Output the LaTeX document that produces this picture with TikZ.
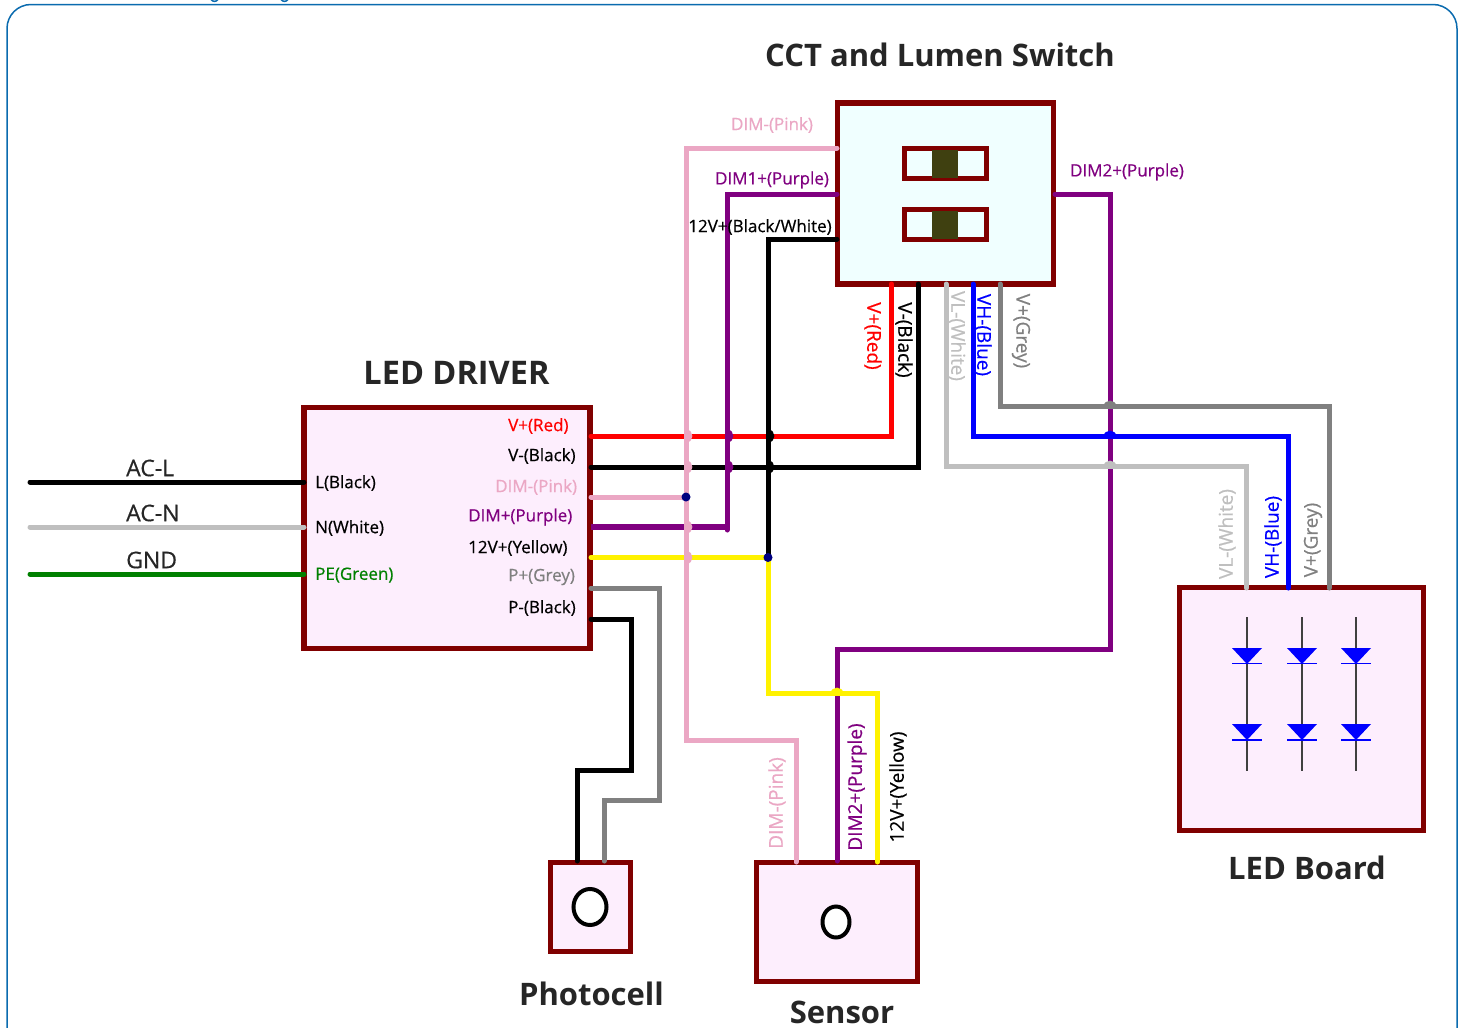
\documentclass[tikz,border=0pt]{standalone}
\usepackage{fontspec}
\setmainfont{Open Sans}
\newfontfamily\labfont[FakeBold=0.5]{Open Sans}
\usetikzlibrary{calc,shapes.geometric}
\definecolor{boxred}{HTML}{800000}
\definecolor{lilac}{HTML}{FDEEFD}
\definecolor{icy}{HTML}{F0FFFF}
\definecolor{pinkw}{HTML}{EBA7C4}
\definecolor{purp}{HTML}{800080}
\definecolor{greyw}{HTML}{808080}
\definecolor{whitew}{HTML}{BFBFBF}
\definecolor{navy2}{HTML}{000080}
\definecolor{green2}{HTML}{008000}
\definecolor{frame}{HTML}{0A6BAF}
\definecolor{slider}{HTML}{3F4010}
\newcommand\hopr[3]{\draw[line width=3.5pt,#3,line cap=round] (#1,#2-6) .. controls (#1+6,#2-3) and (#1+6,#2+3) .. (#1,#2+6);}
\newcommand\hopu[3]{\draw[line width=3.5pt,#3,line cap=round] (#1-6,#2+1) .. controls (#1-3,#2-5) and (#1+3,#2-5) .. (#1+6,#2+1);}
\tikzset{
 x=1pt,y=-1pt,
 boxn/.style={draw=boxred,line width=5.5pt,inner sep=0pt,outer sep=0pt},
 wire/.style={line width=5pt,line join=miter,line cap=round},
 lab/.style={inner sep=0pt,font=\fontsize{17}{20}\labfont},
 rlab/.style={inner sep=0pt,font=\fontsize{19}{22}\labfont},
 aclab/.style={inner sep=0pt,font=\fontsize{23}{26}\labfont,text=black!85,anchor=west},
 ttl/.style={inner sep=0pt,font=\fontsize{31}{36}\selectfont\bfseries,text=black!85},
 dot/.style={circle,fill=navy2,inner sep=0pt,minimum size=9pt},
 ledtri/.style={fill=blue,draw=none},
 ledbar/.style={draw=blue,line width=1.4pt},
 ledline/.style={draw=black!75,line width=1.3pt},
 holelens/.style={draw=black,line width=4pt,fill=white,ellipse},
}
\begin{document}
\begin{tikzpicture}
\useasboundingbox (0,0) rectangle (1465,1028);
\clip (0,0) rectangle (1465,1028);
\fill[white] (0,0) rectangle (1465,1028);
\draw[frame,line width=1.5pt,rounded corners=24pt] (7,1045) -- (7,4.5) -- (1457,4.5) -- (1457,1045);
\draw[frame,line width=1.5pt] (211,-0.5) .. controls (213,2) and (216,2) .. (218,-0.5);
\draw[frame,line width=1.5pt] (281,-0.5) .. controls (283,2) and (286,2) .. (288,-0.5);
% boxes
\node[boxn,fill=lilac,minimum width=286pt,minimum height=241pt] (drv) at (447,528) {};
\node[boxn,fill=icy,minimum width=216pt,minimum height=181pt] (sw) at (945.5,193.5) {};
\node[boxn,fill=lilac,minimum width=244pt,minimum height=243pt] (brd) at (1301.5,709) {};
\node[boxn,fill=lilac,minimum width=80pt,minimum height=89pt] (pho) at (590.5,907) {};
\node[boxn,fill=lilac,minimum width=161pt,minimum height=119pt] (sen) at (837,922) {};
% switch sliders
\node[boxn,fill=icy,minimum width=82pt,minimum height=30pt] (s1) at (945.5,163.5) {};
\node[boxn,fill=icy,minimum width=82pt,minimum height=30pt] (s2) at (945.5,224.5) {};
\node[fill=slider,inner sep=0pt,minimum width=26pt,minimum height=28pt] (s1k) at (945,163.5) {};
\node[fill=slider,inner sep=0pt,minimum width=26pt,minimum height=28pt] (s2k) at (945,224.5) {};
% lenses
\node[holelens,minimum width=33pt,minimum height=36pt,inner sep=0pt] (phoL) at (590,907) {};
\node[holelens,minimum width=27pt,minimum height=31pt,inner sep=0pt] (senL) at (836,922) {};
% ports
\coordinate (dVp) at (591,436); \coordinate (dVm) at (591,467); \coordinate (dPk) at (591,497);
\coordinate (dPu) at (591,527); \coordinate (dYe) at (591,557.5); \coordinate (dPp) at (591,588); \coordinate (dPn) at (591,619);
\coordinate (dL) at (304,482); \coordinate (dN) at (304,527); \coordinate (dG) at (304,574);
\coordinate (acL) at (30,482); \coordinate (acN) at (30,527); \coordinate (acG) at (30,574);
\coordinate (sPk) at (837,148); \coordinate (sPu) at (837,194); \coordinate (sBk) at (837,239); \coordinate (sD2) at (1055,194);
\coordinate (sVp) at (891.5,284); \coordinate (sVm) at (918,284); \coordinate (sVL) at (946,284); \coordinate (sVH) at (973,284); \coordinate (sVG) at (1000,284);
\coordinate (bVL) at (1246.5,588); \coordinate (bVH) at (1288,588); \coordinate (bVG) at (1329,588);
\coordinate (nPk) at (796,862); \coordinate (nPu) at (837,861); \coordinate (nYe) at (877.5,862);
\coordinate (pBk) at (577,861); \coordinate (pGr) at (604,861);
\coordinate (jPk) at (686,497); \coordinate (jYe) at (768,557.5);
% AC wires
\draw[wire,black] (acL) -- (dL);
\draw[wire,whitew] (acN) -- (dN);
\draw[wire,green2] (acG) -- (dG);
% wires
\draw[wire,purp] (sD2) -- (1110,194) -- (1110,649) -- (837,649) -- (nPu);
\draw[wire,red] (dVp) -- (891.5,436) -- (sVp);
\draw[wire,black] (dVm) -- (918,467) -- (sVm);
\draw[wire,pinkw] (dPk) -- (jPk);
\draw[wire,yellow] (dYe) -- (jYe) -- (768,693) -- (877.5,693) -- (nYe);
\draw[wire,greyw] (dPp) -- (659,588) -- (659,800) -- (604,800) -- (pGr);
\draw[wire,black] (dPn) -- (631,619) -- (631,770) -- (577,770) -- (pBk);
\draw[wire,purp,line width=6.5pt,line cap=butt] (dPu) -- (727,527);
\draw[wire,purp] (sPu) -- (727,194) -- (727,530);
\draw[wire,black] (sBk) -- (768,239) -- (jYe);
\draw[wire,pinkw] (sPk) -- (686,148) -- (686,740) -- (796,740) -- (nPk);
\draw[wire,whitew] (sVL) -- (946,466) -- (1246.5,466) -- (bVL);
\draw[wire,blue] (sVH) -- (973,436) -- (1288,436) -- (bVH);
\draw[wire,greyw] (sVG) -- (1000,406) -- (1329,406) -- (bVG);
% line hops
\foreach \yy in {436,467,527,557.5}{\hopr{686}{\yy}{pinkw}}
\foreach \yy in {436,467}{\hopr{727}{\yy}{purp}}
\foreach \yy in {436,467}{\hopr{768}{\yy}{black}}
\hopu{1110}{406}{greyw}
\hopu{1110}{436}{blue}
\hopu{1110}{466}{whitew}
\hopu{837}{693}{yellow}
% junction dots
\node[dot] (jd1) at (jPk) {};
\node[dot] (jd2) at (jYe) {};
% LED array
\foreach \xx/\n in {1247/a,1302/b,1356/c}{
  \draw[ledline] (\xx,617) -- (\xx,771);
  \fill[ledtri] (\xx-15,648) -- (\xx+15,648) -- (\xx,664) -- cycle;
  \draw[ledbar] (\xx-15,663.5) -- (\xx+15,663.5);
  \fill[ledtri] (\xx-15,724) -- (\xx+15,724) -- (\xx,740) -- cycle;
  \draw[ledbar] (\xx-15,740) -- (\xx+15,740);
}
% titles
\node[ttl] (tSw) at (940,55) {CCT and Lumen Switch};
\node[ttl,font=\fontsize{32.5}{36}\selectfont\bfseries] (tDr) at (456.5,373) {LED DRIVER};
\node[ttl] (tBd) at (1307,868) {LED Board};
\node[ttl] (tPh) at (591.5,994) {Photocell};
\node[ttl] (tSe) at (842,1012) {Sensor};
% AC labels
\node[aclab] (lAcL) at (126,468) {AC-L};
\node[aclab] (lAcN) at (126,513) {AC-N};
\node[aclab] (lGnd) at (126,560) {GND};
% driver labels
\node[lab,anchor=west] (l1) at (315,483) {L(Black)};
\node[lab,anchor=west] (l2) at (315,528) {N(White)};
\node[lab,anchor=west,text=green2] (l3) at (315,575) {PE(Green)};
\node[lab,anchor=west,text=red] (l4) at (508,426) {V+(Red)};
\node[lab,anchor=west] (l5) at (508,456) {V-(Black)};
\node[lab,anchor=west,text=pinkw] (l6) at (495,487) {DIM-(Pink)};
\node[lab,anchor=west,text=purp] (l7) at (468,517) {DIM+(Purple)};
\node[lab,anchor=west] (l8) at (468,548) {12V+(Yellow)};
\node[lab,anchor=west,text=greyw] (l9) at (508,577) {P+(Grey)};
\node[lab,anchor=west] (l10) at (508,608) {P-(Black)};
% switch labels
\node[lab,text=pinkw] (l11) at (772,125) {DIM-(Pink)};
\node[lab,text=purp] (l12) at (772,180) {DIM1+(Purple)};
\node[lab] (l13) at (760,227) {12V+(Black/White)};
\node[lab,text=purp] (l14) at (1127,172) {DIM2+(Purple)};
\node[rlab,text=red,rotate=-90] (l15) at (873,336) {V+(Red)};
\node[rlab,rotate=-90] (l16) at (904,340) {V-(Black)};
\node[rlab,text=whitew,rotate=-90] (l17) at (957,336) {VL-(White)};
\node[rlab,text=blue,rotate=-90] (l18) at (983,335) {VH-(Blue)};
\node[rlab,text=greyw,rotate=-90] (l19) at (1021,331) {V+(Grey)};
% board labels
\node[rlab,text=whitew,rotate=90] (l20) at (1227,534) {VL-(White)};
\node[rlab,text=blue,rotate=90] (l21) at (1273,537) {VH-(Blue)};
\node[rlab,text=greyw,rotate=90] (l22) at (1313,540) {V+(Grey)};
% sensor labels
\node[rlab,text=pinkw,rotate=90] (l23) at (777,803) {DIM-(Pink)};
\node[rlab,text=purp,rotate=90] (l24) at (857,787) {DIM2+(Purple)};
\node[rlab,rotate=90] (l25) at (898,787) {12V+(Yellow)};
\end{tikzpicture}
\end{document}
